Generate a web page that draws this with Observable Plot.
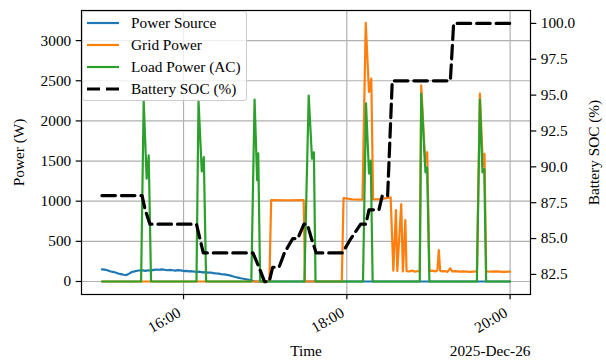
<!DOCTYPE html>
<html><head><meta charset="utf-8">
<script src="https://cdn.jsdelivr.net/npm/d3@7"></script>
<script src="https://cdn.jsdelivr.net/npm/@observablehq/plot@0.6"></script>
<style>
body{margin:0;background:#fff;}
#wrap{position:relative;width:606px;height:360px;font-family:"Liberation Serif",serif;}
#wrap svg, #wrap svg text{font-family:"Liberation Serif",serif !important;}
#legend{position:absolute;left:82px;top:11px;width:165px;height:90px;background:rgba(255,255,255,0.8);border:1px solid #cccccc;border-radius:3px;box-sizing:border-box;font-size:15.3px;color:#000;font-family:"Liberation Serif",serif;}
.row{position:absolute;left:0;height:22px;display:flex;align-items:center;white-space:nowrap;}
.row svg{margin-left:4px;margin-right:12px;}
</style></head><body><div id="wrap"></div>
<script>
// ---- data (minutes after 15:00 on 2025-12-26) ----
const dateLabel = "2025-Dec-26";
const xLabel = "Time";
const yLabel = "Power (W)";
const y2Label = "Battery SOC (%)";
const seriesNames = ["Power Source", "Grid Power", "Load Power (AC)", "Battery SOC (%)"];
const seriesColors = ["#1f77b4", "#ff7f0e", "#2ca02c", "#000000"];

const sourceMin = [0,2,4,6,8,10,12,14,16,18,20,22,24,26,28,30,32,34,36,38,40,42,44,46,48,50,52,54,56,58,60,62,64,66,68,70,72,74,76,78,80,82,84,86,88,90,92,94,96,98,100,102,104,106,108,110,112,114,300];
const sourceW = [152,148,140,128,120,112,100,92,84,80,98,118,126,134,140,138,132,140,136,144,148,146,150,146,140,144,140,136,142,138,130,132,126,128,122,120,122,114,116,110,112,104,100,98,90,88,82,76,66,56,48,40,34,28,20,10,2,0,0];

const gridMin = [0,123.1,124.4,136,148.3,149.3,176.3,177.6,184,191.5,193.9,196.3,198,199.3,205,212.2,214.2,216.1,217.1,220,221.2,223,223.9,226,228,230,232,233.6,234.7,237.6,239.1,240.7,243,245,246.6,247.6,248.6,250,252,254,256.1,257.5,260,263,266,270,273,275.6,277.8,280,281.2,282.4,286,290,295,300];
const gridW = [0,0,1015,1012,1015,0,0,1040,1022,1018,3220,2360,2526,1022,1026,1048,134,890,130,965,125,765,130,124,136,122,128,130,2443,1480,1610,130,135,124,140,390,135,125,130,120,165,125,128,122,126,120,124,125,2340,1440,1590,125,122,126,120,124];

const loadMin = [0,28.8,30.7,32.9,34.4,36.1,69.5,71,73.4,74.9,76.6,109.8,112.2,114.1,114.9,116.3,148.8,152,154.4,155.8,157,191.9,194.1,196.3,197.6,199,233.6,234.7,237.8,239,240.7,275.6,277.8,279.7,281,282.4,300];
const loadW = [0,0,2250,1280,1570,0,0,2255,1370,1550,0,0,2265,1260,1595,0,0,2315,1530,1610,0,0,2220,1345,1505,0,0,2340,1360,1420,0,0,2265,1360,1400,0,0];

const socMin = [0,29.5,31.8,35.3,69.5,72,74.5,111,115.5,119.5,123,125.5,130.2,134.1,140.3,144,148.5,151,154,157.5,176.8,183,190.2,194,196.3,203.6,206.1,210,213.4,256.1,258.5,300];
const socPct = [88,88,87,86,86,85,84,84,83,82,82,83,83,84,85,85,86,86,85,84,84,85,86,86,87,87,88,88,96,96,100,100];

const powerTicks = [0,500,1000,1500,2000,2500,3000];
const socTicks = [82.5,85.0,87.5,90.0,92.5,95.0,97.5,100.0];
const timeTickMin = [60,180,300];   // 16:00, 18:00, 20:00

// ---- scales helpers ----
const startUTC = Date.UTC(2025,11,26,15,0);
const t = m => new Date(startUTC + m*60000);
const powerDomain = [-162, 3375];
const socDomain = [81.1, 100.9];
const toP = s => powerDomain[0] + (s - socDomain[0])/(socDomain[1]-socDomain[0])*(powerDomain[1]-powerDomain[0]);
const fromP = p => socDomain[0] + (p - powerDomain[0])/(powerDomain[1]-powerDomain[0])*(socDomain[1]-socDomain[0]);

const mk = (mins, vals) => mins.map((m,i) => ({t: t(m), v: vals[i]}));
const source = mk(sourceMin, sourceW);
const grid = mk(gridMin, gridW);
const load = mk(loadMin, loadW);
const soc = mk(socMin, socPct.map(toP));
const timeTicks = timeTickMin.map(t);

const FS = 15.3;
const FF = '"Liberation Serif", serif';
const gridStyle = {stroke:"#b0b0b0", strokeOpacity:1, strokeWidth:1.2};

const chart = Plot.plot({
  width: 606, height: 360,
  marginLeft: 81, marginRight: 76, marginTop: 10, marginBottom: 66,
  style: {fontFamily: FF, fontSize: FS+"px", color: "#000", background: "#fff"},
  x: {type: "utc", domain: [t(-15), t(315)]},
  y: {domain: powerDomain},
  marks: [
    Plot.gridY(powerTicks, gridStyle),
    Plot.gridX(timeTicks, gridStyle),
    Plot.line(source, {x:"t", y:"v", stroke: seriesColors[0], strokeWidth: 2.2}),
    Plot.line(grid, {x:"t", y:"v", stroke: seriesColors[1], strokeWidth: 2.2}),
    Plot.line(load, {x:"t", y:"v", stroke: seriesColors[2], strokeWidth: 2.2}),
    Plot.line(soc, {x:"t", y:"v", stroke: seriesColors[3], strokeWidth: 3.2, strokeDasharray: "13.5,6"}),
    Plot.frame({stroke: "#000", strokeWidth: 1.2}),
    Plot.axisY(powerTicks, {anchor: "left", tickSize: 5.3, tickPadding: 5, fontSize: FS, fontFamily: FF, label: null, tickFormat: d => String(d), strokeWidth: 1.2}),
    Plot.axisY(socTicks.map(toP), {anchor: "right", tickSize: 5.3, tickPadding: 5, fontSize: FS, fontFamily: FF, label: null, tickFormat: d => fromP(d).toFixed(1), strokeWidth: 1.2}),
    Plot.axisX(timeTicks, {anchor: "bottom", tickSize: 5.3, label: null, tickFormat: () => "", strokeWidth: 1.2}),
    Plot.text(timeTicks, {x: d => d, text: d3.utcFormat("%H:%M"), frameAnchor: "bottom", rotate: -30, textAnchor: "end", lineAnchor: "middle", dx: -4, dy: 17, fontSize: FS, fontFamily: FF}),
    Plot.text([yLabel], {frameAnchor: "left", rotate: -90, dx: -62, textAnchor: "middle", lineAnchor: "middle", fontSize: FS, fontFamily: FF}),
    Plot.text([y2Label], {frameAnchor: "right", rotate: -90, dx: 64, textAnchor: "middle", lineAnchor: "middle", fontSize: FS, fontFamily: FF}),
    Plot.text([xLabel], {frameAnchor: "bottom", dy: 57, textAnchor: "middle", lineAnchor: "middle", fontSize: FS, fontFamily: FF}),
    Plot.text([dateLabel], {frameAnchor: "bottom-right", dy: 57, textAnchor: "end", lineAnchor: "middle", fontSize: FS, fontFamily: FF})
  ]
});

const wrap = document.getElementById("wrap");
wrap.appendChild(chart);

// legend overlay
const leg = document.createElement("div");
leg.id = "legend";
seriesNames.forEach((name, i) => {
  const row = document.createElement("div");
  row.className = "row";
  row.style.top = (i*22 - 0.5) + "px";
  const dashed = i === 3;
  row.innerHTML = `<svg width="32" height="22"><line x1="0" x2="32" y1="11" y2="11" stroke="${seriesColors[i]}" stroke-width="${dashed?3.2:2.2}" ${dashed?'stroke-dasharray="13,6"':''}/></svg><span>${name}</span>`;
  leg.appendChild(row);
});
wrap.appendChild(leg);
</script>
</body></html>
